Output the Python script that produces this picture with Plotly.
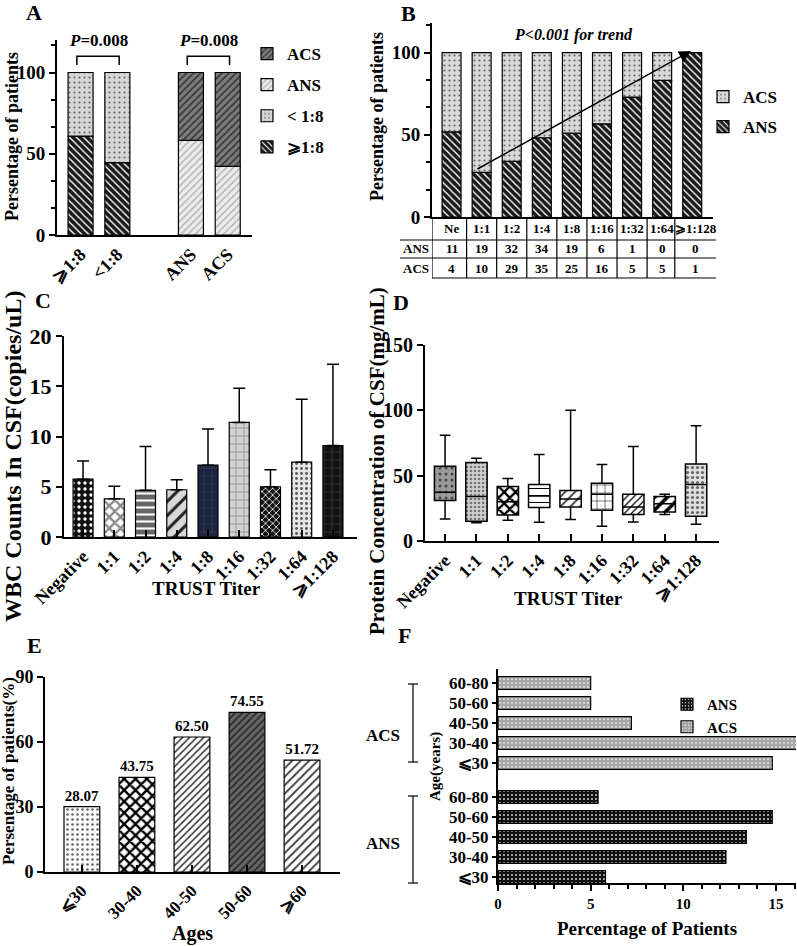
import plotly.graph_objects as go

W, H = 797, 946
FONT = "Liberation Serif"


def px(x):
    return x / W


def py(y):
    return 1 - y / H


# ---------------- data ----------------
# Panel A
a_cats = ["⩾1:8", "&lt;1:8", "ANS", "ACS"]
a_pos = [0, 1, 3, 4]
a_ge18 = [60.9, 44.5]
a_lt18 = [39.1, 55.5]
a_ans = [58.2, 42.2]
a_acs = [41.8, 57.8]
a_pvals = ["0.008", "0.008"]

# Panel B
b_cats = ["Ne", "1:1", "1:2", "1:4", "1:8", "1:16", "1:32", "1:64", "⩾1:128"]
b_ans = [51.8, 27.1, 33.9, 48.2, 51.0, 56.7, 72.9, 83.1, 100.0]
b_acs = [48.2, 72.9, 66.1, 51.8, 49.0, 43.3, 27.1, 16.9, 0.0]
b_tab_ans = [11, 19, 32, 34, 19, 6, 1, 0, 0]
b_tab_acs = [4, 10, 29, 35, 25, 16, 5, 5, 1]

# Panel C
c_cats = ["Negative", "1:1", "1:2", "1:4", "1:8", "1:16", "1:32", "1:64", "⩾1:128"]
c_mean = [5.75, 3.8, 4.65, 4.7, 7.15, 11.4, 5.0, 7.45, 9.1]
c_upper = [7.55, 5.05, 9.0, 5.7, 10.75, 14.8, 6.7, 13.7, 17.2]

# Panel D
d_cats = ["Negative", "1:1", "1:2", "1:4", "1:8", "1:16", "1:32", "1:64", "⩾1:128"]
d_low = [16.9, 14.0, 15.8, 14.3, 16.4, 11.2, 14.6, 20.2, 12.8]
d_q1 = [30.9, 15.1, 19.9, 25.6, 26.1, 23.5, 20.2, 22.2, 18.9]
d_med = [37.3, 34.0, 30.0, 34.5, 32.2, 35.8, 26.0, 28.6, 43.2]
d_q3 = [57.2, 60.0, 41.7, 43.2, 38.6, 44.2, 35.8, 34.0, 59.0]
d_high = [81.0, 63.4, 47.8, 66.2, 100.0, 58.5, 72.3, 35.8, 88.2]

# Panel E
e_cats = ["⩽30", "30-40", "40-50", "50-60", "⩾60"]
e_vals = [30.2, 43.7, 62.3, 73.7, 51.6]
e_labels = ["28.07", "43.75", "62.50", "74.55", "51.72"]

# Panel F
f_ages = ["⩽30", "30-40", "40-50", "50-60", "60-80"]
f_ans = [5.8, 12.3, 13.4, 14.8, 5.4]
f_acs = [14.8, 16.5, 7.2, 5.0, 5.0]
f_groups = ["ACS", "ANS"]

# ---------------- styles ----------------
LINE = dict(color="black", width=1.2)


def pat(shape, fg, bg, size, sol):
    return dict(shape=shape, fgcolor=fg, bgcolor=bg, size=size, solidity=sol, fillmode="replace")


def tf(size):
    return dict(family=FONT, size=size, color="black", weight="bold")


def axstyle(**kw):
    d = dict(showline=True, linecolor="black", linewidth=2, ticks="outside", tickwidth=2,
             ticklen=6, tickcolor="black", showgrid=False, zeroline=False, automargin=False,
             tickfont=tf(20))
    d.update(kw)
    return d


fig = go.Figure()

# ---------------- Panel A ----------------
pA_ge = pat("\\", "#ffffff", "#1a1a1a", 5, 0.28)
pA_lt = pat(".", "#666666", "#d6d6d6", 5, 0.15)
pA_ans = pat("/", "#b5b5b5", "#ececec", 5, 0.3)
pA_acs = pat("/", "#3a3a3a", "#7c7c7c", 5, 0.35)
fig.add_trace(go.Bar(x=a_pos[:2], y=a_ge18, width=0.68, name="⩾1:8", legend="legend", legendgroup="a1",
                     legendrank=4, xaxis="x", yaxis="y",
                     marker=dict(color="#1a1a1a", line=LINE, pattern=pA_ge)))
fig.add_trace(go.Bar(x=a_pos[:2], y=a_lt18, base=a_ge18, width=0.68, name="&lt; 1:8", legend="legend",
                     legendgroup="a2", legendrank=3, xaxis="x", yaxis="y",
                     marker=dict(color="#d6d6d6", line=LINE, pattern=pA_lt)))
fig.add_trace(go.Bar(x=a_pos[2:], y=a_ans, width=0.68, name="ANS", legend="legend", legendgroup="a3",
                     legendrank=2, xaxis="x", yaxis="y",
                     marker=dict(color="#ececec", line=LINE, pattern=pA_ans)))
fig.add_trace(go.Bar(x=a_pos[2:], y=a_acs, base=a_ans, width=0.68, name="ACS", legend="legend",
                     legendgroup="a4", legendrank=1, xaxis="x", yaxis="y",
                     marker=dict(color="#7c7c7c", line=LINE, pattern=pA_acs)))

# ---------------- Panel B ----------------
b_pos = list(range(len(b_cats)))
fig.add_trace(go.Bar(x=b_pos, y=b_ans, width=0.63, name="ANS", legend="legend2", legendgroup="b1",
                     legendrank=2, xaxis="x2", yaxis="y2",
                     marker=dict(color="#1a1a1a", line=LINE, pattern=pA_ge)))
fig.add_trace(go.Bar(x=b_pos, y=b_acs, base=b_ans, width=0.63, name="ACS", legend="legend2",
                     legendgroup="b2", legendrank=1, xaxis="x2", yaxis="y2",
                     marker=dict(color="#d9d9d9", line=LINE, pattern=pat(".", "#666666", "#d9d9d9", 5, 0.15))))

# ---------------- Panel C ----------------
c_pos = list(range(len(c_cats)))
c_pats = [pat(".", "#ffffff", "#111111", 6, 0.25),
          pat("x", "#8a8a8a", "#fdfdfd", 8, 0.5),
          pat("-", "#ffffff", "#666666", 7, 0.3),
          pat("/", "#222222", "#d9d9d9", 10, 0.3),
          pat("+", "#4a4a5a", "#1b2140", 8, 0.12),
          pat("+", "#777777", "#d0d0d0", 8, 0.15),
          pat("x", "#ffffff", "#111111", 5, 0.3),
          pat(".", "#555555", "#e6e6e6", 5, 0.25),
          pat("+", "#555555", "#111111", 8, 0.12)]
for i in c_pos:
    fig.add_trace(go.Bar(x=[c_pos[i]], y=[c_mean[i]], width=0.64, showlegend=False, xaxis="x3", yaxis="y3",
                         error_y=dict(type="data", symmetric=False, array=[c_upper[i] - c_mean[i]],
                                      arrayminus=[0], color="black", thickness=1.5, width=6),
                         marker=dict(color=c_pats[i]["bgcolor"], line=LINE, pattern=c_pats[i])))

# ---------------- Panel D ----------------
d_pos = list(range(len(d_cats)))
d_pats = [pat(".", "#444444", "#9a9a9a", 6, 0.2),
          pat(".", "#777777", "#cfcfcf", 4, 0.35),
          pat("x", "#000000", "#fdfdfd", 8, 0.5),
          pat("-", "#000000", "#fdfdfd", 7, 0.15),
          pat("/", "#000000", "#fdfdfd", 7, 0.2),
          pat("+", "#000000", "#fdfdfd", 8, 0.12),
          pat("/", "#000000", "#fdfdfd", 5, 0.25),
          pat("/", "#000000", "#fdfdfd", 9, 0.4),
          pat(".", "#666666", "#e0e0e0", 5, 0.3)]
for i in d_pos:
    fig.add_trace(go.Bar(x=[d_pos[i]], y=[d_q3[i] - d_q1[i]], base=[d_q1[i]], width=0.68, showlegend=False,
                         xaxis="x4", yaxis="y4",
                         marker=dict(color=d_pats[i]["bgcolor"], line=dict(width=0), pattern=d_pats[i])))
fig.add_trace(go.Box(x=d_pos, q1=d_q1, median=d_med, q3=d_q3, lowerfence=d_low, upperfence=d_high,
                     width=0.68, whiskerwidth=0.5, showlegend=False, xaxis="x4", yaxis="y4",
                     fillcolor="rgba(0,0,0,0)", line=dict(color="black", width=1.5), boxpoints=False))

# ---------------- Panel E ----------------
e_pos = list(range(len(e_cats)))
e_pats = [pat(".", "#666666", "#fafafa", 5, 0.2),
          pat("x", "#000000", "#fdfdfd", 8, 0.5),
          pat("/", "#333333", "#fdfdfd", 5, 0.3),
          pat("/", "#2a2a2a", "#666666", 5, 0.35),
          pat("/", "#333333", "#fdfdfd", 6, 0.3)]
for i in e_pos:
    fig.add_trace(go.Bar(x=[e_pos[i]], y=[e_vals[i]], width=0.65, showlegend=False, xaxis="x5", yaxis="y5",
                         text=[e_labels[i]], textposition="outside", constraintext="none", cliponaxis=False,
                         textfont=tf(15),
                         marker=dict(color=e_pats[i]["bgcolor"], line=LINE, pattern=e_pats[i])))

# ---------------- Panel F ----------------
f_pos_ans = [0, 1, 2, 3, 4]
f_pos_acs = [5.7, 6.7, 7.7, 8.7, 9.7]
fig.add_trace(go.Bar(y=f_pos_ans, x=f_ans, orientation="h", width=0.63, name="ANS", legend="legend3",
                     legendgroup="f1", legendrank=1, xaxis="x6", yaxis="y6",
                     marker=dict(color="#111111", line=LINE, pattern=pat(".", "#cfcfcf", "#111111", 4, 0.2))))
fig.add_trace(go.Bar(y=f_pos_acs, x=f_acs, orientation="h", width=0.63, name="ACS", legend="legend3",
                     legendgroup="f2", legendrank=2, xaxis="x6", yaxis="y6",
                     marker=dict(color="#a6a6a6", line=LINE, pattern=pat(".", "#e2e2e2", "#a6a6a6", 4, 0.2))))

# ---------------- layout ----------------
minor = dict(ticks="outside", ticklen=4, tickwidth=1.5, tickcolor="black", dtick=50 / 3)

fig.update_layout(
    width=W, height=H, margin=dict(l=0, r=0, t=0, b=0),
    paper_bgcolor="white", plot_bgcolor="white",
    font=dict(family=FONT, color="black"),
    barmode="overlay", boxmode="overlay",
    xaxis=axstyle(domain=[px(57), px(252)], range=[-0.64, 4.66], anchor="y", tickvals=a_pos,
                  ticktext=a_cats, tickangle=-45, ticks="", tickfont=tf(18)),
    yaxis=axstyle(domain=[py(235), py(40)], range=[0, 120], anchor="x", tickvals=[0, 50, 100],
                  minor=minor, tickfont=tf(19)),
    xaxis2=axstyle(domain=[px(432), px(713)], range=[-0.65, 8.69], anchor="y2", showticklabels=False,
                   ticks=""),
    yaxis2=axstyle(domain=[py(217), py(23)], range=[0, 118], anchor="x2", tickvals=[0, 50, 100],
                   minor=minor, tickfont=tf(19)),
    xaxis3=axstyle(domain=[px(64), px(357)], range=[-0.61, 8.77], anchor="y3", tickvals=c_pos,
                   ticktext=c_cats, tickangle=-45, ticks="inside", ticklen=7, tickfont=tf(18)),
    yaxis3=axstyle(domain=[py(537), py(336)], range=[0, 20], anchor="x3", dtick=5, tickfont=tf(22)),
    xaxis4=axstyle(domain=[px(425), px(719)], range=[-0.64, 8.73], anchor="y4", tickvals=d_pos,
                   ticktext=d_cats, tickangle=-45, ticks="inside", ticklen=7, tickfont=tf(18)),
    yaxis4=axstyle(domain=[py(541), py(345)], range=[0, 150], anchor="x4", dtick=50, tickfont=tf(20)),
    xaxis5=axstyle(domain=[px(45), px(340)], range=[-0.67, 4.69], anchor="y5", tickvals=e_pos,
                   ticktext=e_cats, tickangle=-45, ticks="inside", ticklen=7, tickfont=tf(17)),
    yaxis5=axstyle(domain=[py(872), py(677)], range=[0, 90], anchor="x5", dtick=30, tickfont=tf(18)),
    xaxis6=axstyle(domain=[px(498), px(796)], range=[0, 16.08], anchor="y6", dtick=5, tickfont=tf(15),
                   minor=dict(ticks="outside", ticklen=4, tickwidth=1.5, tickcolor="black", dtick=1)),
    yaxis6=axstyle(domain=[py(883), py(669)], range=[-0.3, 10.4], anchor="x6",
                   tickvals=f_pos_ans + f_pos_acs, ticktext=f_ages + f_ages, ticklen=4, tickfont=tf(17)),
    legend=dict(x=px(247), y=py(36), xanchor="left", yanchor="top", font=tf(17), tracegroupgap=6,
                traceorder="grouped", bgcolor="rgba(0,0,0,0)"),
    legend2=dict(x=px(703), y=py(79), xanchor="left", yanchor="top", font=tf(17), tracegroupgap=5,
                 traceorder="grouped", bgcolor="rgba(0,0,0,0)"),
    legend3=dict(x=px(667), y=py(688), xanchor="left", yanchor="top", font=tf(15), tracegroupgap=0,
                 traceorder="grouped", bgcolor="rgba(0,0,0,0)"),
)

ann = []
shapes = []


def label(text, x, y, size=17, xref="paper", yref="paper", angle=0, italic=False):
    ann.append(dict(text=text, x=x, y=y, xref=xref, yref=yref, showarrow=False, textangle=angle,
                    font=dict(family=FONT, size=size, color="black", weight="bold",
                              style="italic" if italic else "normal"),
                    xanchor="center", yanchor="middle"))


# panel letters
for letter, (lx, ly) in {"A": (34, 12), "B": (408, 13), "C": (43, 300), "D": (401, 302),
                          "E": (34, 645), "F": (404, 635)}.items():
    label(letter, px(lx), py(ly), size=22)

# axis titles
label("Persentage of patients", px(12), py(137), size=18, angle=-90)
label("Persentage of patients", px(377), py(117), size=18, angle=-90)
label("WBC Counts In CSF(copies/uL)", px(13), py(457), size=24, angle=-90)
label("Protein Concentration of CSF(mg/mL)", px(377), py(461), size=21, angle=-90)
label("Persentage of patients(%)", px(8), py(771), size=17, angle=-90)
label("Age(years)", px(435), py(767), size=15, angle=-90)
label("TRUST Titer", px(207), py(588), size=19)
label("TRUST Titer", px(568), py(598), size=19)
label("Ages", px(192), py(933), size=20)
label("Percentage of Patients", px(647), py(928), size=19)

# A: p-value brackets
for i, pv in enumerate(a_pvals):
    x0, x1 = a_pos[2 * i] - 0.1, a_pos[2 * i + 1] + 0.05
    shapes.append(dict(type="path", xref="x", yref="y", line=dict(color="black", width=1.5),
                       path=f"M{x0},104.6 L{x0},110 L{x1},110 L{x1},104.6"))
    label(f"<i>P</i>={pv}", (x0 + x1) / 2, py(40), size=17, xref="x")

# B: trend arrow and text
ann.append(dict(x=7.96, y=101, ax=0.81, ay=28.7, xref="x2", yref="y2", axref="x2", ayref="y2", text="",
                showarrow=True, arrowhead=2, arrowsize=1.6, arrowwidth=1.5, arrowcolor="black"))
label("P&lt;0.001 for trend", 4.04, py(35), size=16, xref="x2", italic=True)

# B: table
b_text_x = b_pos[:-1] + [8.11]
for i, c in enumerate(b_cats):
    label(c, b_text_x[i], py(228), size=13, xref="x2")
    label(str(b_tab_ans[i]), b_text_x[i], py(249), size=13, xref="x2")
    label(str(b_tab_acs[i]), b_text_x[i], py(268), size=13, xref="x2")
label("ANS", px(416), py(249), size=13)
label("ACS", px(416), py(268), size=13)
tl = dict(color="black", width=1.2)
for xv in [-0.65, 0.5, 1.5, 2.5, 3.5, 4.5, 5.5, 6.5, 7.42, 8.8]:
    shapes.append(dict(type="line", xref="x2", yref="paper", x0=xv, x1=xv, y0=py(217), y1=py(278), line=tl))
for yv, xa in [(240, 400), (258, 400), (278, 432)]:
    shapes.append(dict(type="line", xref="paper", yref="paper", x0=px(xa), x1=px(716), y0=py(yv), y1=py(yv),
                       line=tl))

# F group labels and brackets
for g, (ycen, y0, y1) in zip(f_groups, [(735, 684, 762), (843, 796, 883)]):
    label(g, px(383), py(ycen), size=17)
    shapes.append(dict(type="line", xref="paper", yref="paper", x0=px(413), x1=px(413), y0=py(y0), y1=py(y1),
                       line=dict(color="black", width=1.2)))
    for yy in (y0, y1):
        shapes.append(dict(type="line", xref="paper", yref="paper", x0=px(408), x1=px(418), y0=py(yy),
                           y1=py(yy), line=dict(color="black", width=1.2)))

fig.update_layout(annotations=ann, shapes=shapes)
fig.write_html("out.html", config={"displayModeBar": False},
               post_script="document.body.style.margin='0';")
